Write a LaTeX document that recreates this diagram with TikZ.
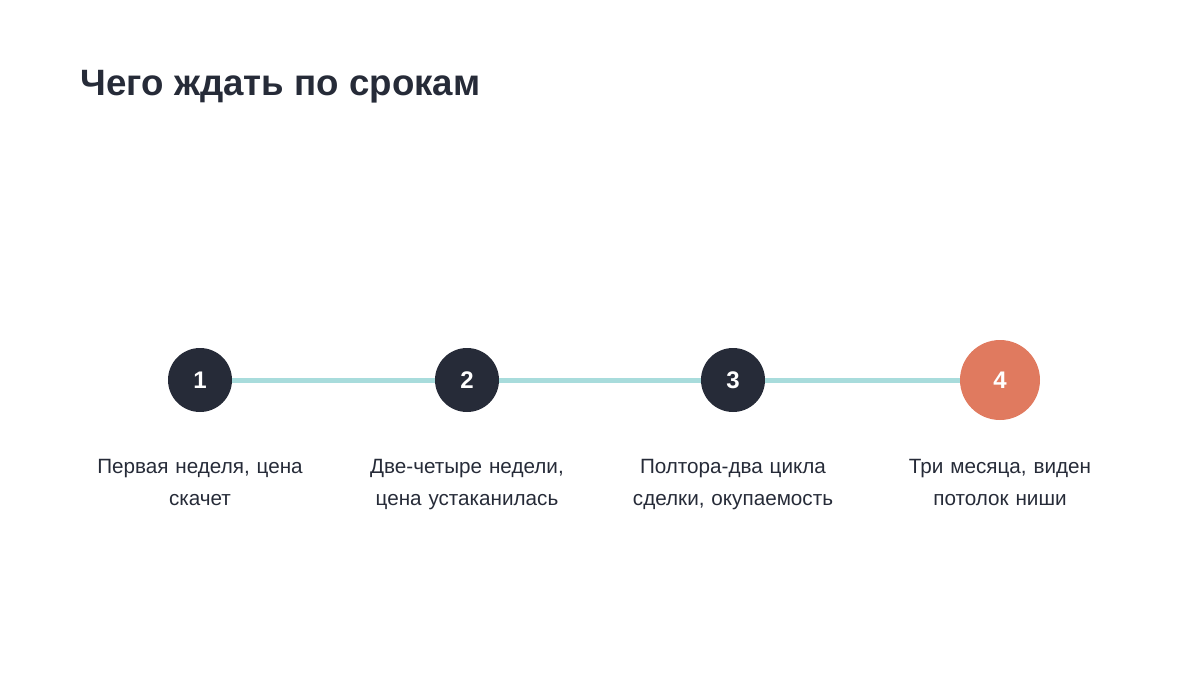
\documentclass[tikz,border=0pt]{standalone}
\usepackage{fontspec}
\setmainfont{Liberation Sans}
\usetikzlibrary{positioning}
\definecolor{inkdark}{HTML}{262B38}
\definecolor{accent}{HTML}{E07A5F}
\definecolor{track}{HTML}{A8DCDC}
\tikzset{
  stage/.style={circle, fill=inkdark, minimum size=48pt, inner sep=0pt,
    text=white, font=\fontsize{18}{20}\selectfont\bfseries},
  last/.style={stage, fill=accent, minimum size=60pt},
  caption/.style={align=center, text=inkdark,
    font=\fontsize{15.5}{23.5}\selectfont, text width=200pt},
  link/.style={track, line width=3.75pt}
}
\begin{document}
\begin{tikzpicture}[x=0.75pt, y=-0.75pt]
    \useasboundingbox (0,0) rectangle (1200,675);
    \node [anchor=west, text=inkdark, font=\fontsize{27.5}{30}\selectfont\bfseries] (title) at (76,87) {Чего ждать по срокам};
    \node [stage] (s1) at (200,380) {1};
    \node [stage] (s2) at (467,380) {2};
    \node [stage] (s3) at (733,380) {3};
    \node [last] (s4) at (1000,380) {4};
    \draw [link] (s1) -- (s2);
    \draw [link] (s2) -- (s3);
    \draw [link] (s3) -- (s4);
    \node [caption, below=32pt of s1] (c1) {Первая неделя, цена\\скачет};
    \node [caption, below=32pt of s2] (c2) {Две-четыре недели,\\цена устаканилась};
    \node [caption, below=32pt of s3] (c3) {Полтора-два цикла\\сделки, окупаемость};
    \node [caption, below=26pt of s4] (c4) {Три месяца, виден\\потолок ниши};
\end{tikzpicture}
\end{document}
